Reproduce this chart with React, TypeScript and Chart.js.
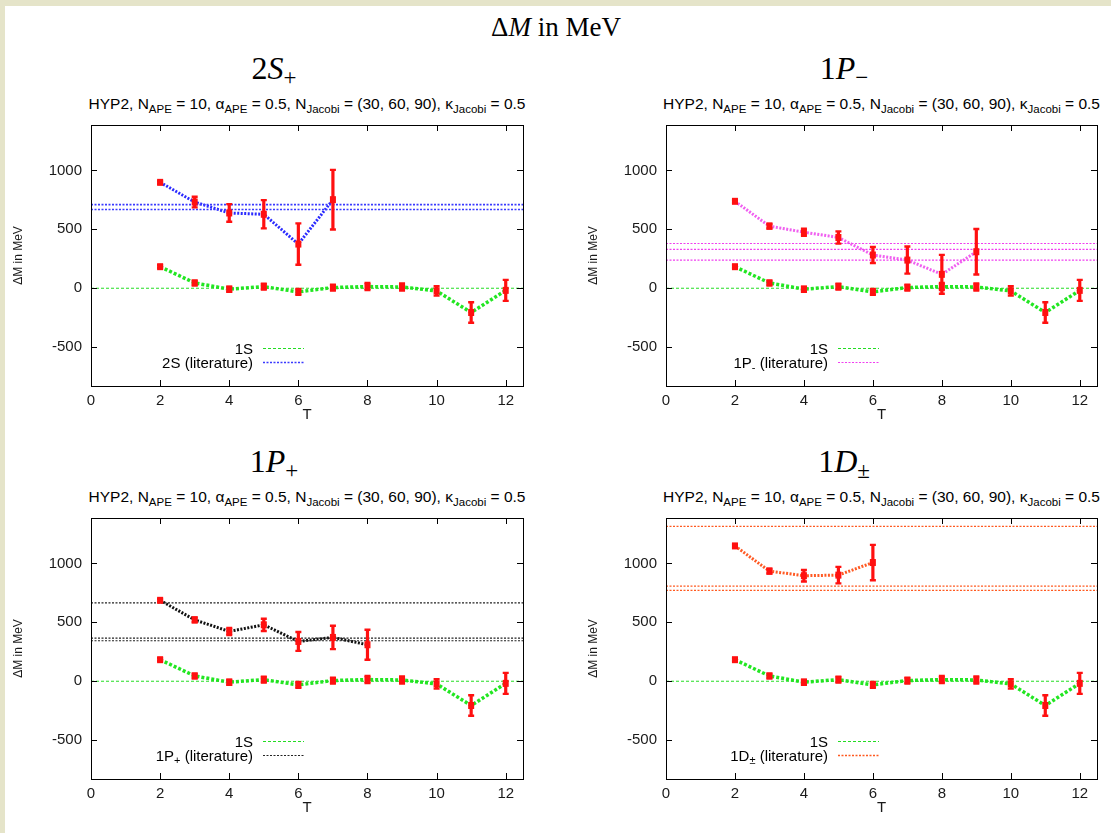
import React, { useEffect, useRef } from "react";
import { Chart, registerables } from "chart.js";

Chart.register(...registerables);

// ---------- data ----------
const T_ALL = [2, 3, 4, 5, 6, 7, 8, 9, 10, 11, 12];
const dm1S = [183, 45, -8, 14, -31, 6, 14, 11, -23, -206, -18];
const err1S = [12, 20, 22, 25, 25, 25, 30, 30, 40, 87, 89];

const T_2S = [2, 3, 4, 5, 6, 7];
const dm2S = [899, 732, 639, 628, 375, 752];
const err2S = [12, 45, 75, 120, 176, 253];
const lit2S = [710, 668];

const T_1Pm = [2, 3, 4, 5, 6, 7, 8, 9];
const dm1Pm = [738, 527, 476, 431, 282, 239, 118, 310];
const err1Pm = [12, 20, 30, 52, 68, 115, 165, 193];
const lit1Pm = [380, 330, 239];

const T_1Pp = [2, 3, 4, 5, 6, 7, 8];
const dm1Pp = [687, 521, 423, 479, 338, 372, 310];
const err1Pp = [12, 20, 30, 52, 80, 99, 127];
const lit1Pp = [665, 366, 344];

const T_1D = [2, 3, 4, 5, 6];
const dm1D = [1149, 935, 896, 901, 1008];
const err1D = [12, 20, 49, 70, 150];
const lit1D = [1315, 808, 772];

const X_TICKS = [0, 2, 4, 6, 8, 10, 12];
const Y_TICKS = [-500, 0, 500, 1000];
const X_MIN = 0;
const X_MAX = 12.5;
const Y_MIN = -830;
const Y_MAX = 1386;

// ---------- layout ----------
const Y_AXIS_W = 90;
const X_AXIS_H = 40;
const PAD_T = 8;
const PAD_R = 8;
const FONT = "'Liberation Sans', Arial, Helvetica, sans-serif";
const SERIF = "'Liberation Serif', 'Times New Roman', serif";

const GREEN = "#22e622";
const GREEN_THIN = "#22dd22";
const RED = "#ff1010";

type PanelDef = {
  key: string;
  titleMain: string;
  titleSub: string;
  legendMain: string;
  legendSub: string;
  color: string;
  litColor: string;
  litWidth: number;
  t: number[];
  dm: number[];
  err: number[];
  lit: number[];
  left: number;
  top: number;
  width: number;
  height: number;
  titleX: number;
};

const panels: PanelDef[] = [
  { key: "2S", titleMain: "2S", titleSub: "+", legendMain: "2S", legendSub: "", color: "#2a2aff", litColor: "#3a3aff", litWidth: 1.6, t: T_2S, dm: dm2S, err: err2S, lit: lit2S, left: 91, top: 125, width: 432, height: 261, titleX: 274 },
  { key: "1Pm", titleMain: "1P", titleSub: "\u2212", legendMain: "1P", legendSub: "-", color: "#f060f0", litColor: "#f040f0", litWidth: 1.2, t: T_1Pm, dm: dm1Pm, err: err1Pm, lit: lit1Pm, left: 666, top: 125, width: 431, height: 261, titleX: 844 },
  { key: "1Pp", titleMain: "1P", titleSub: "+", legendMain: "1P", legendSub: "+", color: "#111111", litColor: "#222222", litWidth: 1.2, t: T_1Pp, dm: dm1Pp, err: err1Pp, lit: lit1Pp, left: 91, top: 518, width: 432, height: 261, titleX: 274 },
  { key: "1D", titleMain: "1D", titleSub: "\u00b1", legendMain: "1D", legendSub: "\u00b1", color: "#ff5a24", litColor: "#ff5a20", litWidth: 1.3, t: T_1D, dm: dm1D, err: err1D, lit: lit1D, left: 666, top: 518, width: 431, height: 261, titleX: 844 },
];

const errorBarPlugin = {
  id: "errorBars",
  afterDatasetsDraw(chart: any) {
    const ctx = chart.ctx;
    const xs = chart.scales.x;
    const ys = chart.scales.y;
    ctx.save();
    chart.data.datasets.forEach((ds: any) => {
      if (!ds.errors) return;
      ds.data.forEach((pt: any, i: number) => {
        const e = ds.errors[i];
        const px = xs.getPixelForValue(pt.x);
        const py = ys.getPixelForValue(pt.y);
        const y1 = ys.getPixelForValue(pt.y - e);
        const y2 = ys.getPixelForValue(pt.y + e);
        ctx.strokeStyle = RED;
        ctx.lineWidth = 3.2;
        ctx.setLineDash([]);
        ctx.beginPath();
        ctx.moveTo(px, y1);
        ctx.lineTo(px, y2);
        ctx.stroke();
        ctx.lineWidth = 2.4;
        ctx.beginPath();
        ctx.moveTo(px - 3, y1);
        ctx.lineTo(px + 3, y1);
        ctx.moveTo(px - 3, y2);
        ctx.lineTo(px + 3, y2);
        ctx.stroke();
        ctx.fillStyle = RED;
        ctx.fillRect(px - 3, py - 3.5, 6, 7);
      });
    });
    ctx.restore();
  },
};

function makeFramePlugin(samples: { color: string; dash: number[]; width: number }[]) {
  return {
    id: "frameTicks",
    afterDraw(chart: any) {
      const ctx = chart.ctx;
      const a = chart.chartArea;
      const xs = chart.scales.x;
      const ys = chart.scales.y;
      ctx.save();
      ctx.strokeStyle = "#000";
      ctx.lineWidth = 1;
      ctx.setLineDash([]);
      ctx.strokeRect(Math.round(a.left) + 0.5, Math.round(a.top) + 0.5, Math.round(a.right - a.left), Math.round(a.bottom - a.top));
      ctx.beginPath();
      const L = 6;
      X_TICKS.forEach((v) => {
        const x = Math.round(xs.getPixelForValue(v)) + 0.5;
        ctx.moveTo(x, a.bottom);
        ctx.lineTo(x, a.bottom - L);
        ctx.moveTo(x, a.top);
        ctx.lineTo(x, a.top + L);
      });
      Y_TICKS.forEach((v) => {
        const y = Math.round(ys.getPixelForValue(v)) + 0.5;
        ctx.moveTo(a.left, y);
        ctx.lineTo(a.left + L, y);
        ctx.moveTo(a.right, y);
        ctx.lineTo(a.right - L, y);
      });
      ctx.stroke();

      // legend sample lines
      const x1 = a.left + 172;
      const x2 = a.left + 213;
      samples.forEach((it, i) => {
        const y = Math.round(a.top + 223 + i * 14) + 0.5;
        ctx.strokeStyle = it.color;
        ctx.lineWidth = it.width;
        ctx.setLineDash(it.dash);
        ctx.beginPath();
        ctx.moveTo(x1, y);
        ctx.lineTo(x2, y);
        ctx.stroke();
      });
      ctx.restore();
    },
  };
}

function Panel({ p }: { p: PanelDef }) {
  const ref = useRef<HTMLCanvasElement>(null);
  const cw = Y_AXIS_W + p.width + PAD_R;
  const ch = PAD_T + p.height + X_AXIS_H;
  useEffect(() => {
    if (!ref.current) return;
    const pts = (xs: number[], ys: number[]) => xs.map((x, i) => ({ x, y: ys[i] }));
    const hline = (v: number) => [{ x: X_MIN, y: v }, { x: X_MAX, y: v }];
    const datasets: any[] = [
      { label: "1S", data: hline(0), borderColor: GREEN_THIN, borderWidth: 1, borderDash: [3, 2], pointRadius: 0, tension: 0 },
      ...p.lit.map((v) => ({ label: "lit", data: hline(v), borderColor: p.litColor, borderWidth: p.litWidth, borderDash: [2, 1.5], pointRadius: 0, tension: 0 })),
      { label: "1S data", data: pts(T_ALL, dm1S), errors: err1S, borderColor: GREEN, borderWidth: 3.5, borderDash: [3, 2], pointRadius: 0, tension: 0 },
      { label: p.key + " data", data: pts(p.t, p.dm), errors: p.err, borderColor: p.color, borderWidth: 3, borderDash: [2, 1.5], pointRadius: 0, tension: 0 },
    ];
    const tickFont = { family: FONT, size: 15 };
    const framePlugin = makeFramePlugin([
      { color: GREEN_THIN, dash: [3, 2], width: 1.2 },
      { color: p.litColor, dash: [2, 1.5], width: p.litWidth },
    ]);
    const chart = new Chart(ref.current, {
      type: "line",
      data: { datasets },
      plugins: [errorBarPlugin, framePlugin],
      options: {
        animation: false,
        responsive: false,
        devicePixelRatio: 1,
        layout: { padding: { left: 0, top: PAD_T, right: PAD_R, bottom: 0 } },
        plugins: {
          legend: { display: false },
          tooltip: { enabled: false },
        },
        scales: {
          x: {
            type: "linear",
            min: X_MIN,
            max: X_MAX,
            afterBuildTicks: (s: any) => { s.ticks = X_TICKS.map((v) => ({ value: v })); },
            afterFit: (s: any) => { s.height = X_AXIS_H; s.paddingLeft = 0; s.paddingRight = 0; s.paddingTop = 0; s.paddingBottom = 0; },
            grid: { display: false, drawTicks: false },
            border: { display: false },
            ticks: { font: tickFont, color: "#1a1a1a", padding: 6, maxRotation: 0, autoSkip: false, callback: (v: any) => String(v) },
            title: { display: true, text: "T", font: tickFont, color: "#1a1a1a", padding: { top: 0, bottom: 2 } },
          },
          y: {
            type: "linear",
            min: Y_MIN,
            max: Y_MAX,
            afterBuildTicks: (s: any) => { s.ticks = Y_TICKS.map((v) => ({ value: v })); },
            afterFit: (s: any) => { s.width = Y_AXIS_W; s.paddingTop = 0; s.paddingBottom = 0; s.paddingLeft = 0; s.paddingRight = 0; },
            grid: { display: false, drawTicks: false },
            border: { display: false },
            ticks: { font: tickFont, color: "#1a1a1a", padding: 9, autoSkip: false, callback: (v: any) => String(v) },
            title: { display: true, text: "\u0394M in MeV", font: { family: FONT, size: 12 }, color: "#1a1a1a", padding: { top: 10, bottom: 0 } },
          },
        },
      } as any,
    });
    return () => chart.destroy();
  }, []);

  const canvasLeft = p.left - Y_AXIS_W;
  const canvasTop = p.top - PAD_T;
  const plotCenter = p.left + p.width / 2;
  return (
    <>
      <canvas
        ref={ref}
        width={cw}
        height={ch}
        style={{ position: "absolute", left: canvasLeft, top: canvasTop, width: cw, height: ch }}
      />
      <div
        style={{
          position: "absolute",
          left: p.titleX - 100,
          width: 200,
          top: p.top - 75,
          textAlign: "center",
          fontFamily: SERIF,
          fontSize: 32,
          lineHeight: "36px",
          color: "#000",
          whiteSpace: "nowrap",
        }}
      >
        {p.titleMain[0]}
        <i>{p.titleMain.slice(1)}</i>
        <sub style={{ fontSize: 23, verticalAlign: "-6px", fontStyle: "normal", lineHeight: 0 }}>{p.titleSub}</sub>
      </div>
      <div
        style={{
          position: "absolute",
          left: plotCenter - 260,
          width: 520,
          top: p.top - 30,
          textAlign: "center",
          fontFamily: FONT,
          fontSize: 15.5,
          lineHeight: "18px",
          color: "#000",
          whiteSpace: "nowrap",
        }}
      >
        HYP2, N<sub style={subStyle}>APE</sub> = 10, {"\u03b1"}<sub style={subStyle}>APE</sub> = 0.5, N<sub style={subStyle}>Jacobi</sub> = (30, 60, 90), {"\u03ba"}<sub style={subStyle}>Jacobi</sub> = 0.5
      </div>
      <div style={{ ...legendStyle, left: p.left + 2, width: 160, top: p.top + 223.5 - 9 }}>1S</div>
      <div style={{ ...legendStyle, left: p.left + 2, width: 160, top: p.top + 237.5 - 9 }}>
        {p.legendMain}
        {p.legendSub ? <sub style={{ fontSize: 11, verticalAlign: "-3px", lineHeight: 0 }}>{p.legendSub}</sub> : null} (literature)
      </div>
    </>
  );
}

const subStyle: React.CSSProperties = { fontSize: 11.5, verticalAlign: "-4px", lineHeight: 0 };
const legendStyle: React.CSSProperties = {
  position: "absolute",
  textAlign: "right",
  fontFamily: FONT,
  fontSize: 15,
  lineHeight: "18px",
  color: "#000",
  whiteSpace: "nowrap",
};

export default function App() {
  return (
    <div style={{ position: "absolute", left: 0, top: 0, width: 1111, height: 833, background: "#e5e4c9", overflow: "hidden" }}>
      <div style={{ position: "absolute", left: 5, top: 6, right: 0, bottom: 0, background: "#ffffff" }} />
      <div
        style={{
          position: "absolute",
          left: 356,
          width: 400,
          top: 10,
          textAlign: "center",
          fontFamily: SERIF,
          fontSize: 27,
          lineHeight: "34px",
          color: "#000",
        }}
      >
        {"\u0394"}<i>M</i> in MeV
      </div>
      {panels.map((p) => (
        <Panel key={p.key} p={p} />
      ))}
    </div>
  );
}
